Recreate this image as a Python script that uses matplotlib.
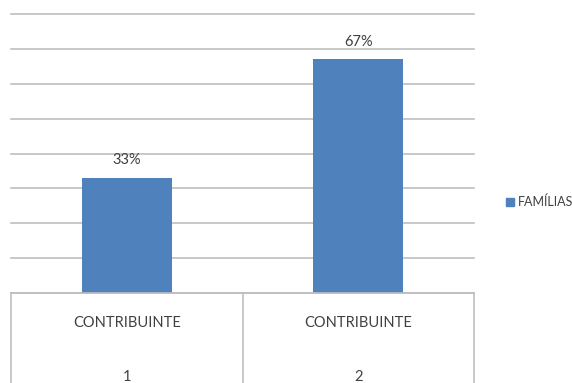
import matplotlib.pyplot as plt
from matplotlib.lines import Line2D
from matplotlib.patches import Patch

# dados
categorias = ['CONTRIBUINTE\n\n1', 'CONTRIBUINTE\n\n2']
valores = [33, 67]
rotulos = ['33%', '67%']
serie = 'FAMÍLIAS'

azul = '#4F81BD'
cinza = '#BFBFBF'
texto = '#404040'

plt.rcParams['font.family'] = ['Lato', 'DejaVu Sans']

fig = plt.figure(figsize=(5.72, 3.83), dpi=100)
ax = fig.add_axes([11/572, 90/383, 463/572, 279/383])

x = list(range(len(valores)))
ax.bar(x, valores, width=0.39, color=azul, zorder=3)
for xi, v, r in zip(x, valores, rotulos):
    ax.text(xi, v + 3, r, ha='center', va='bottom', fontsize=10.5, color=texto)

ax.set_xlim(-0.5, len(valores) - 0.5)
ax.set_ylim(0, 80)
ax.set_yticks(range(0, 90, 10))
ax.yaxis.grid(True, color=cinza, linewidth=1.2, zorder=0)
for g in ax.yaxis.get_gridlines():
    g.set_clip_on(False)
ax.tick_params(left=False, bottom=False, labelleft=False, labelbottom=False)
for s in ax.spines.values():
    s.set_visible(False)

# tabela de categorias abaixo do eixo
tr = ax.get_xaxis_transform()
fundo = -95/279
ax.add_line(Line2D([-0.5, len(valores) - 0.5], [0, 0], transform=tr,
                   color=cinza, lw=1.2, clip_on=False, zorder=4))
for xv in [i - 0.5 for i in range(len(valores) + 1)]:
    ax.add_line(Line2D([xv, xv], [0, fundo], transform=tr,
                       color=cinza, lw=1.2, clip_on=False))
for xi, c in zip(x, categorias):
    nome, _, num = c.split('\n')
    ax.text(xi, -30/279, nome, transform=tr, ha='center', va='center',
            fontsize=10.5, color=texto)
    ax.text(xi, -84/279, num, transform=tr, ha='center', va='center',
            fontsize=10.5, color=texto)

fig.legend(handles=[Patch(color=azul, label=serie)], loc='center left',
           bbox_to_anchor=(495/572, 1 - 202/383), frameon=False,
           fontsize=9, handlelength=0.6, handleheight=0.6, handletextpad=0.3,
           labelcolor=texto)

fig.savefig('out.png', dpi=100)
